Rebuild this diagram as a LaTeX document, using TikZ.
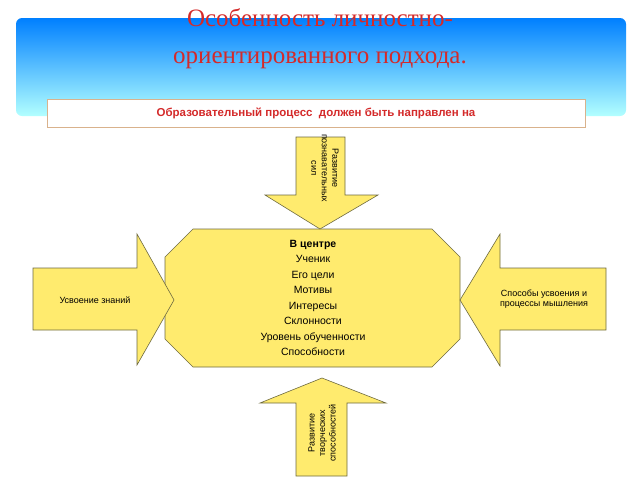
\documentclass[tikz,border=0pt]{standalone}
\usepackage{fontspec}
\setmainfont{Liberation Sans}
\newfontfamily\titlefont{Liberation Serif}
\usetikzlibrary{positioning}
\definecolor{arrowfill}{HTML}{FFEB6E}
\definecolor{arrowline}{HTML}{6E6A40}
\definecolor{titlered}{HTML}{D42A2A}
\tikzset{
  arrowbox/.style={fill=arrowfill, draw=arrowline, line width=0.6pt},
  arrowtext/.style={font=\fontsize{9}{10.5}\selectfont, align=center}
}
\begin{document}
\begin{tikzpicture}[x=1pt,y=-1pt]
\useasboundingbox (0,0) rectangle (640,480);
% banner
\shade[top color=cyan!50!blue, bottom color=cyan!30, rounded corners=6pt]
      (16,18) rectangle (626,116);
\node (title) at (320,39) [align=center, text=titlered,
      font=\titlefont\fontsize{25}{37}\selectfont] {Особенность личностно-\\ориентированного подхода.};
\node (sub) at (316,113) [draw=brown!60, fill=white, minimum width=538pt,
      minimum height=28pt, text=titlered, font=\bfseries\fontsize{11.5}{13}\selectfont]
      {Образовательный процесс\ \ должен быть направлен на};
% center
\draw[arrowbox] (193,229) -- (432,229) -- (460,257) -- (460,339) -- (432,367)
      -- (193,367) -- (165,339) -- (165,257) -- cycle;
\node (center) at (313,298) [arrowtext, font=\fontsize{10.5}{15.5}\selectfont]
      {\textbf{В центре}\\Ученик\\Его цели\\Мотивы\\Интересы\\Склонности\\Уровень обученности\\Способности};
% top arrow
\draw[arrowbox] (296,137) -- (345,137) -- (345,195) -- (378,195) -- (320,229)
      -- (265,195) -- (296,195) -- cycle;
\node (top) at (325,168) [arrowtext, rotate=-90] {Развитие\\познавательных\\сил};
% left arrow
\draw[arrowbox] (33,268) -- (137,268) -- (137,234) -- (174,300) -- (137,365)
      -- (137,330) -- (33,330) -- cycle;
\node (left) at (95,300) [arrowtext] {Усвоение знаний};
% right arrow
\draw[arrowbox] (606,268) -- (500,268) -- (500,234) -- (460,300) -- (500,366)
      -- (500,330) -- (606,330) -- cycle;
\node (right) at (544,299) [arrowtext] {Способы усвоения и\\процессы мышления};
% bottom arrow
\draw[arrowbox] (296,476) -- (347,476) -- (347,403) -- (386,403) -- (322,378)
      -- (260,403) -- (296,403) -- cycle;
\node (bottom) at (322,433) [arrowtext, rotate=90] {Развитие\\творческих\\способностей};
\end{tikzpicture}
\end{document}
